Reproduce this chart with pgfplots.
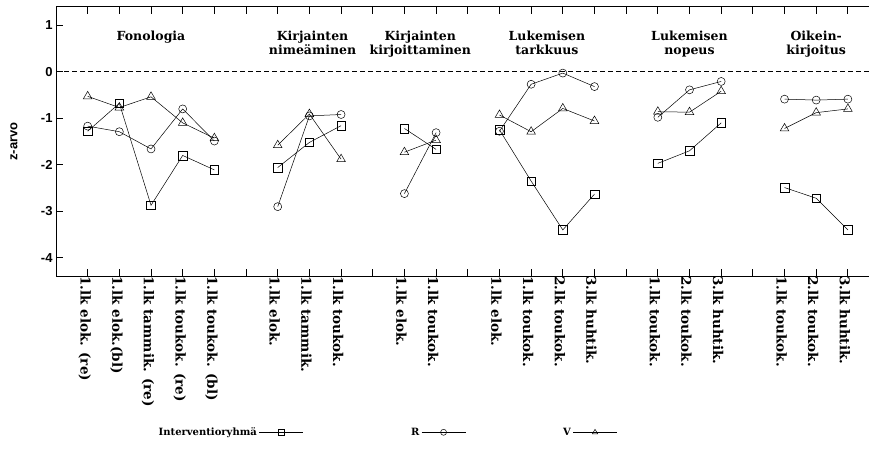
\documentclass[border=0pt]{standalone}
\usepackage{fontspec}
\setmainfont{DejaVu Serif}
\setsansfont{Liberation Sans}
\usepackage{pgfplots}
\usepackage{pgfplotstable}
\pgfplotsset{compat=1.18}

\pgfplotstableread{
x y
1 -1.28
2 -0.68
3 -2.87
4 -1.80
5 -2.11
6 nan
7 -2.06
8 -1.52
9 -1.16
10 nan
11 -1.22
12 -1.67
13 nan
14 -1.25
15 -2.35
16 -3.40
17 -2.63
18 nan
19 -1.97
20 -1.70
21 -1.10
22 nan
23 -2.49
24 -2.72
25 -3.40
}\tabI

\pgfplotstableread{
x y
1 -1.17
2 -1.29
3 -1.66
4 -0.80
5 -1.49
6 nan
7 -2.90
8 -0.95
9 -0.92
10 nan
11 -2.62
12 -1.31
13 nan
14 -1.28
15 -0.27
16 -0.03
17 -0.32
18 nan
19 -0.98
20 -0.39
21 -0.21
22 nan
23 -0.59
24 -0.61
25 -0.59
}\tabR

\pgfplotstableread{
x y
1 -0.53
2 -0.77
3 -0.54
4 -1.10
5 -1.43
6 nan
7 -1.58
8 -0.91
9 -1.88
10 nan
11 -1.73
12 -1.47
13 nan
14 -0.93
15 -1.29
16 -0.79
17 -1.06
18 nan
19 -0.86
20 -0.87
21 -0.42
22 nan
23 -1.22
24 -0.88
25 -0.80
}\tabV

\begin{document}
\begin{tikzpicture}
\begin{axis}[
  at={(0,0)}, anchor=south west,
  scale only axis,
  width=815bp, height=269bp,
  xmin=0, xmax=25.73,
  ymin=-4.39, ymax=1.39,
  axis line style={line width=1pt},
  unbounded coords=jump,
  xtick={1,...,25},
  xticklabels={1.lk elok. (re),1.lk elok.(bl),1.lk tammik. (re),1.lk toukok. (re),1.lk toukok. (bl),,1.lk elok.,1.lk tammik.,1.lk toukok.,,1.lk elok.,1.lk toukok.,,1.lk elok.,1.lk toukok.,2.lk toukok.,3.lk huhtik.,,1.lk toukok.,2.lk toukok.,3.lk huhtik.,,1.lk toukok.,2.lk toukok.,3.lk huhtik.},
  xticklabel style={rotate=-90, anchor=west, font=\fontsize{13.5bp}{15bp}\selectfont\bfseries, inner sep=0pt, yshift=-3bp},
  xtick pos=both,
  ytick={-4,-3,-2,-1,0,1},
  yticklabels={-4,-3,-2,-1,0,1},
  yticklabel style={font=\fontsize{13bp}{14bp}\selectfont\sffamily\bfseries},
  ytick pos=left,
  tick align=inside,
  major tick length=7bp,
  tick style={black, line width=0.8pt},
  ylabel={z-arvo},
  every axis y label/.style={at={(axis description cs:-0.0515,0.5)}, rotate=90, anchor=center},
  ylabel style={font=\fontsize{13bp}{14bp}\selectfont\sffamily\bfseries},
  legend columns=3,
  legend plot pos=right,
  legend style={draw=none, fill=none, at={(0.405,-0.581)}, anchor=center,
    font=\fontsize{10bp}{11bp}\selectfont\bfseries,
    /tikz/every even column/.append style={column sep=14bp}},
  legend cell align=right,
  legend image code/.code={\draw[mark repeat=2,mark phase=2,mark size=3bp] plot coordinates {(0bp,0bp)(22bp,0bp)(44bp,0bp)};},
  clip=false,
]
\draw[dash pattern=on 5bp off 3bp, line width=0.5pt] (axis cs:0,0) -- (axis cs:25.73,0);
\addplot[black, line width=0.5pt, mark=square, mark size=4.3bp] table {\tabI};
\addlegendentry{\makebox[100bp][r]{Interventioryhmä}}
\addplot[black, line width=0.5pt, mark=o, mark size=4bp] table {\tabR};
\addlegendentry{\makebox[100bp][r]{R}}
\addplot[black, line width=0.5pt, mark=triangle, mark size=5bp] table {\tabV};
\addlegendentry{\makebox[89bp][r]{V}}
\begin{scope}[every node/.style={font=\fontsize{12.5bp}{14.5bp}\selectfont\bfseries, align=center, anchor=north, inner sep=0pt}]
\node at (axis cs:3,0.88) {Fonologia};
\node at (axis cs:8.1,0.88) {Kirjainten\\nimeäminen};
\node at (axis cs:11.5,0.88) {Kirjainten\\kirjoittaminen};
\node at (axis cs:15.5,0.88) {Lukemisen\\tarkkuus};
\node at (axis cs:20,0.88) {Lukemisen\\nopeus};
\node at (axis cs:24,0.88) {Oikein-\\kirjoitus};
\end{scope}
\end{axis}
\pgfresetboundingbox
\path (-56bp,-192bp) rectangle (813bp,276bp);
\end{tikzpicture}
\end{document}
